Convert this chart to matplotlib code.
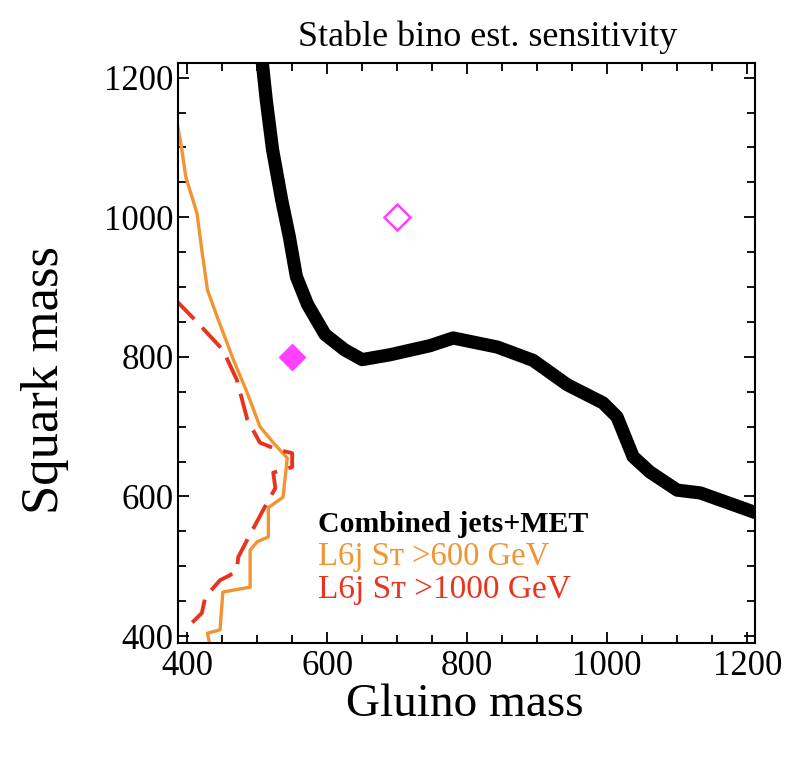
import numpy as np
import matplotlib
matplotlib.use("Agg")
import matplotlib.pyplot as plt
from matplotlib.ticker import MultipleLocator

# combined jets+MET reach (thick black)
combined_x = [507, 513, 522, 535, 546, 556, 572, 597, 625, 650, 690, 747, 780, 843, 894, 943, 994, 1014, 1037, 1061, 1100, 1133, 1214]
combined_y = [1225, 1168, 1097, 1025, 972, 915, 875, 832, 810, 796, 803, 816, 827, 814, 795, 760, 734, 714, 657, 635, 609, 605, 576]

# L6j ST > 600 GeV (orange)
st600_x = [383, 392, 398, 414, 421, 429, 443, 466, 486, 504, 523, 543, 537, 516, 516, 500, 490, 490, 451, 447, 429, 433]
st600_y = [1150, 1100, 1058, 1006, 953, 896, 857, 796, 748, 700, 677, 655, 599, 584, 542, 535, 523, 470, 463, 409, 404, 385]

# L6j ST > 1000 GeV (red dashed)
st1000_x = [383, 414, 451, 471, 486, 504, 529, 550, 550, 523, 526, 511, 487, 473, 471, 461, 447, 426, 421, 401, 397]
st1000_y = [882, 850, 810, 767, 710, 677, 667, 662, 642, 634, 612, 585, 540, 513, 495, 487, 480, 456, 433, 413, 406]

# benchmark points
filled_pt = (550, 800)
open_pt = (700, 1000)

legend_labels = ["Combined jets+MET", "L6j S\u1d1b >600 GeV", "L6j S\u1d1b >1000 GeV"]

serif = ['Liberation Serif', 'DejaVu Serif']
plt.rcParams['font.family'] = serif

black = '#000000'
orange = '#F39433'
red = '#E8341F'
magenta = '#FF40FF'

fig = plt.figure(figsize=(7.93, 7.57), dpi=100)
ax = fig.add_axes([0.2245, 0.1506, 0.952 - 0.2245, 0.9168 - 0.1506])

ax.plot(st600_x, st600_y, color=orange, lw=2.4)
ax.plot(st1000_x, st1000_y, color=red, lw=2.8, dashes=(7, 3))
ax.plot(combined_x, combined_y, color=black, lw=9.5, solid_capstyle='butt',
        solid_joinstyle='round')
ax.plot(*filled_pt, marker='D', ms=13, color=magenta, mec=magenta)
ax.plot(*open_pt, marker='D', ms=13, mfc='none', mec=magenta, mew=1.8)

ax.set_xlim(387, 1211)
ax.set_ylim(390, 1221)
ax.xaxis.set_major_locator(MultipleLocator(200))
ax.xaxis.set_minor_locator(MultipleLocator(50))
ax.yaxis.set_major_locator(MultipleLocator(200))
ax.yaxis.set_minor_locator(MultipleLocator(50))
ax.tick_params(which='both', direction='in', top=True, right=True, width=1.3)
ax.tick_params(which='major', length=8, labelsize=25)
ax.tick_params(axis='y', which='major', pad=3)
ax.tick_params(axis='x', which='major', pad=5)
ax.tick_params(which='minor', length=6)
for s in ax.spines.values():
    s.set_linewidth(1.5)

fig.text(0.615, 0.951, "Stable bino est. sensitivity", fontsize=26,
         ha='center', va='center')
fig.text(0.586, 0.069, "Gluino mass", fontsize=34, ha='center', va='center')
fig.text(0.057, 0.498, "Squark mass", fontsize=38, ha='center', va='center',
         rotation=90)

ax.text(0.243, 0.191, legend_labels[0], transform=ax.transAxes, fontsize=21.5,
        fontweight='bold', color=black)
ax.text(0.243, 0.134, legend_labels[1], transform=ax.transAxes, fontsize=23.5,
        color=orange)
ax.text(0.243, 0.077, legend_labels[2], transform=ax.transAxes, fontsize=24,
        color=red)

fig.savefig("out.png", dpi=100)
